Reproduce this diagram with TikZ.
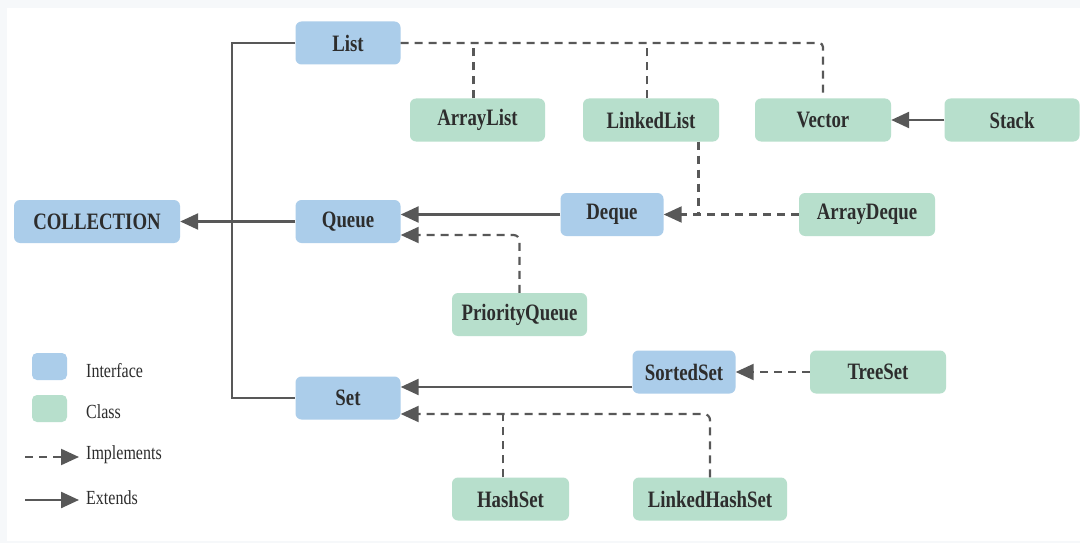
\documentclass[tikz,border=0pt]{standalone}
\usepackage{fontspec}
\setmainfont{Liberation Serif}[FakeStretch=0.8]
\usetikzlibrary{arrows.meta,calc}
\definecolor{ifblue}{RGB}{171,205,234}
\definecolor{clgreen}{RGB}{183,223,204}
\definecolor{txt}{RGB}{45,45,45}
\definecolor{ln}{RGB}{88,88,88}
\definecolor{bggray}{RGB}{246,248,250}
\tikzset{
  box/.style={rounded corners=6pt, minimum height=43pt, inner sep=0pt, text=txt,
    font=\fontsize{23.5}{25}\selectfont\bfseries},
  iface/.style={box, fill=ifblue},
  cls/.style={box, fill=clgreen},
  tip/.style={-{Triangle[length=18pt,width=16pt]}},
  ext/.style={draw=ln, line width=2.4pt},
  impl/.style={draw=ln, line width=2.2pt, dash pattern=on 8pt off 6pt},
  legtext/.style={anchor=west, inner sep=0pt, text=txt, font=\fontsize{20}{22}\selectfont},
}
\begin{document}
\begin{tikzpicture}[x=1pt,y=-1pt]
\fill[bggray] (0,0) rectangle (1080,543);
\fill[white] (7,8) rectangle (1080,541);
\useasboundingbox (0,0) rectangle (1080,543);
% nodes
\node[iface, minimum width=166pt] (coll) at (97,221.5) {COLLECTION};
\node[iface, minimum width=105pt] (list) at (348,43) {List};
\node[iface, minimum width=105pt] (queue) at (348,221.5) {Queue};
\node[iface, minimum width=105pt] (set) at (348,398) {Set};
\node[cls, minimum width=135pt] (arraylist) at (477.5,120) {ArrayList};
\node[cls, minimum width=136pt] (linkedlist) at (651,120) {LinkedList};
\node[cls, minimum width=136pt] (vector) at (823,120) {Vector};
\node[cls, minimum width=135pt] (stack) at (1012,120) {Stack};
\node[iface, minimum width=103pt] (deque) at (612,214.5) {Deque};
\node[cls, minimum width=136pt] (arraydeque) at (867,214.5) {ArrayDeque};
\node[cls, minimum width=135pt] (pq) at (519.5,314.5) {PriorityQueue};
\node[iface, minimum width=103pt] (sortedset) at (684,372) {SortedSet};
\node[cls, minimum width=136pt] (treeset) at (878,372) {TreeSet};
\node[cls, minimum width=117pt] (hashset) at (510.5,499) {HashSet};
\node[cls, minimum width=154pt] (lhs) at (710,499) {LinkedHashSet};
% trunk
\coordinate (trunk) at (232,43);
\draw[ext] (list.west) -- (trunk) |- (set.west);
\draw[ext, tip] (queue.west) -- (coll.east);
% list implementations
\draw[impl, rounded corners=4pt] (list.east) -| (vector.north);
\coordinate (alN) at ($(arraylist.north)+(-4,0)$);
\coordinate (llN) at ($(linkedlist.north)+(-4,0)$);
\draw[impl] (alN) -- (alN |- list.east);
\draw[impl] (llN) -- (llN |- list.east);
\draw[ext, tip] (stack.west) -- (vector.east);
% queue
\draw[ext, tip] (deque.west) -- (deque.west -| queue.east);
\coordinate (qIn) at ($(queue.east)+(0,13.5)$);
\draw[impl, tip, rounded corners=6pt] (pq.north) |- (qIn);
\coordinate (llS) at ($(linkedlist.south)+(47.5,0)$);
\draw[impl, tip] (arraydeque.west) -- (deque.east);
\draw[impl] (llS) -- (llS |- deque.east);
% set
\coordinate (ssOut) at ($(sortedset.west)+(0,15)$);
\draw[ext, tip] (ssOut) -- (ssOut -| set.east);
\draw[impl, tip] (treeset.west) -- (sortedset.east);
\coordinate (sIn) at ($(set.east)+(0,16)$);
\draw[impl, tip, rounded corners=6pt] (lhs.north) |- (sIn);
\coordinate (hsN) at ($(hashset.north)+(-7.5,0)$);
\draw[impl] (hsN) -- (hsN |- sIn);
% legend
\node[fill=ifblue, rounded corners=5pt, minimum width=35pt, minimum height=27pt, inner sep=0pt] (legif) at (49.5,366.5) {};
\node[fill=clgreen, rounded corners=5pt, minimum width=35pt, minimum height=27pt, inner sep=0pt] (legcl) at (49.5,408.5) {};
\node[legtext] (tif) at (86,371) {Interface};
\node[legtext] (tcl) at (86,412) {Class};
\node[legtext] (timpl) at (86,455) {Implements};
\node[legtext] (text) at (86,498) {Extends};
\coordinate (i0) at (25,457);
\coordinate (i1) at (79,457);
\coordinate (e0) at (25,500);
\coordinate (e1) at (79,500);
\draw[impl, tip] (i0) -- (i1);
\draw[ext, tip] (e0) -- (e1);
\end{tikzpicture}
\end{document}
